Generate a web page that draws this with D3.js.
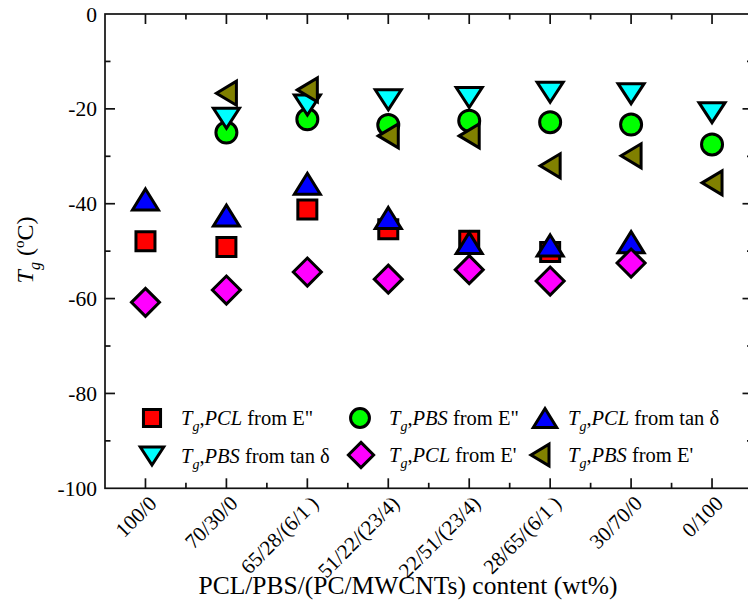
<!DOCTYPE html>
<html><head><meta charset="utf-8">
<script src="https://cdn.jsdelivr.net/npm/d3@7"></script>
<style>
body{margin:0;background:#fff;}
text{font-family:"Liberation Serif","Times New Roman",serif;fill:#000;}
</style></head>
<body><svg id="c" width="748" height="606"></svg>
<script>
const categories = ["100/0","70/30/0","65/28/(6/1 )","51/22/(23/4)","22/51/(23/4)","28/65/(6/1 )","30/70/0","0/100"];
const yTicks = [0,-20,-40,-60,-80,-100];
const pclE2   = [-47.9,-49.1,-41.2,-45.4,-47.8,-50.2,null,null];
const pbsE2   = [null,-25.0,-22.2,-23.4,-22.5,-22.8,-23.3,-27.5];
const pclTan  = [-39.1,-42.5,-35.8,-43.0,-48.3,-48.8,-48.1,null];
const pbsTan  = [null,-22.0,-19.2,-18.1,-17.6,-16.5,-16.8,-20.8];
const pclE1   = [-60.8,-58.2,-54.4,-55.9,-53.9,-56.3,-52.5,null];
const pbsE1   = [null,-16.7,-16.0,-25.7,-25.7,-32.0,-29.9,-35.6];

const shapes = {
  square: s => `M${-9.5*s},${-9.5*s}h${19*s}v${19*s}h${-19*s}Z`,
  circle: s => { const r=10.5*s; return `M${r},0A${r},${r} 0 1,1 ${-r},0A${r},${r} 0 1,1 ${r},0Z`; },
  up: s => `M0,${-10.5*s}L${13*s},${10.5*s}L${-13*s},${10.5*s}Z`,
  down: s => `M0,${10*s}L${13*s},${-10*s}L${-13*s},${-10*s}Z`,
  diamond: s => `M0,${-14*s}L${14*s},0L0,${14*s}L${-14*s},0Z`,
  left: s => `M${-10*s},0L${10*s},${-12*s}L${10*s},${12*s}Z`
};

const series = [
  {vals:pclE2, shape:"square", color:"#ff0000", mat:"PCL", src:"from E\""},
  {vals:pbsE2, shape:"circle", color:"#00ff00", mat:"PBS", src:"from E\""},
  {vals:pclTan, shape:"up", color:"#0000ff", mat:"PCL", src:"from tan δ"},
  {vals:pbsTan, shape:"down", color:"#00ffff", mat:"PBS", src:"from tan δ"},
  {vals:pclE1, shape:"diamond", color:"#ff00ff", mat:"PCL", src:"from E'"},
  {vals:pbsE1, shape:"left", color:"#808000", mat:"PBS", src:"from E'"}
];

const svg = d3.select("#c");
const L=105, R=752.5, T=14, B=488.3;
const x = d3.scaleLinear().domain([0.5,8.5]).range([L,R]);
const y = d3.scaleLinear().domain([-100,0]).range([B,T]);

const ax = svg.append("g").attr("stroke","#111").attr("stroke-width",1.7);
ax.append("rect").attr("x",L).attr("y",T).attr("width",R-L).attr("height",B-T).attr("fill","none");

const xMajor = d3.range(1,9), xMinor = d3.range(1.5,8.5,1);
const yMajor = d3.range(-100,1,20), yMinor = d3.range(-90,0,20);
const tk = (g,arr,len,side)=>{
  arr.forEach(v=>{
    if(side==="b") g.append("line").attr("x1",x(v)).attr("x2",x(v)).attr("y1",B).attr("y2",B-len);
    if(side==="t") g.append("line").attr("x1",x(v)).attr("x2",x(v)).attr("y1",T).attr("y2",T+len);
    if(side==="l") g.append("line").attr("y1",y(v)).attr("y2",y(v)).attr("x1",L).attr("x2",L+len);
    if(side==="r") g.append("line").attr("y1",y(v)).attr("y2",y(v)).attr("x1",R).attr("x2",R-len);
  });
};
tk(ax,xMajor,10,"b"); tk(ax,xMinor,5.5,"b");
tk(ax,xMajor,10,"t"); tk(ax,xMinor,5.5,"t");
tk(ax,yMajor.filter(v=>v>-100&&v<0),10,"l"); tk(ax,yMinor,5.5,"l");
tk(ax,yMajor.filter(v=>v>-100&&v<0),10,"r"); tk(ax,yMinor,5.5,"r");

svg.append("g").selectAll("text").data(yTicks).join("text")
  .attr("x",97).attr("y",d=>y(d)).attr("dy","0.35em")
  .attr("text-anchor","end").attr("font-size",21.5).text(d=>d);

svg.append("g").selectAll("text").data(categories).join("text")
  .attr("transform",(d,i)=>`translate(${x(i+1)+2},${B+6}) rotate(-45)`)
  .attr("text-anchor","end").attr("dy","0.7em").attr("font-size",21).text(d=>d);

svg.append("text").attr("x",408).attr("y",594).attr("text-anchor","middle")
  .attr("font-size",25.5).text("PCL/PBS/(PC/MWCNTs) content (wt%)");
const yt = svg.append("text").attr("transform","translate(33,250) rotate(-90)")
  .attr("text-anchor","middle").attr("font-size",24);
yt.append("tspan").attr("font-style","italic").text("T");
yt.append("tspan").attr("font-style","italic").attr("font-size",16).attr("dy",7).text("g");
yt.append("tspan").attr("dy",-7).text(" (");
yt.append("tspan").attr("font-size",15).attr("dy",-9).text("o");
yt.append("tspan").attr("dy",9).text("C)");

series.forEach(s=>{
  svg.append("g").selectAll("path").data(s.vals.map((v,i)=>({v,i})).filter(d=>d.v!==null)).join("path")
    .attr("transform",d=>`translate(${x(d.i+1)},${y(d.v)})`)
    .attr("d",shapes[s.shape](1))
    .attr("fill",s.color).attr("stroke","#000").attr("stroke-width",3).attr("stroke-linejoin","miter");
});

const legPos = [[152,418,181],[360,418,389],[545,418,568],[152,456,181],[361,455,389],[540,455,568]];
series.forEach((s,k)=>{
  const [mx,my,tx]=legPos[k];
  svg.append("path").attr("transform",`translate(${mx},${my})`).attr("d",shapes[s.shape](0.9))
    .attr("fill",s.color).attr("stroke","#000").attr("stroke-width",3);
  const t = svg.append("text").attr("x",tx).attr("y",my+7).attr("font-size",20.5);
  t.append("tspan").attr("font-style","italic").text("T");
  t.append("tspan").attr("font-style","italic").attr("font-size",14).attr("dy",6).text("g");
  t.append("tspan").attr("dy",-6).text(",");
  t.append("tspan").attr("font-style","italic").text(s.mat);
  t.append("tspan").text(" "+s.src);
});
</script></body></html>
